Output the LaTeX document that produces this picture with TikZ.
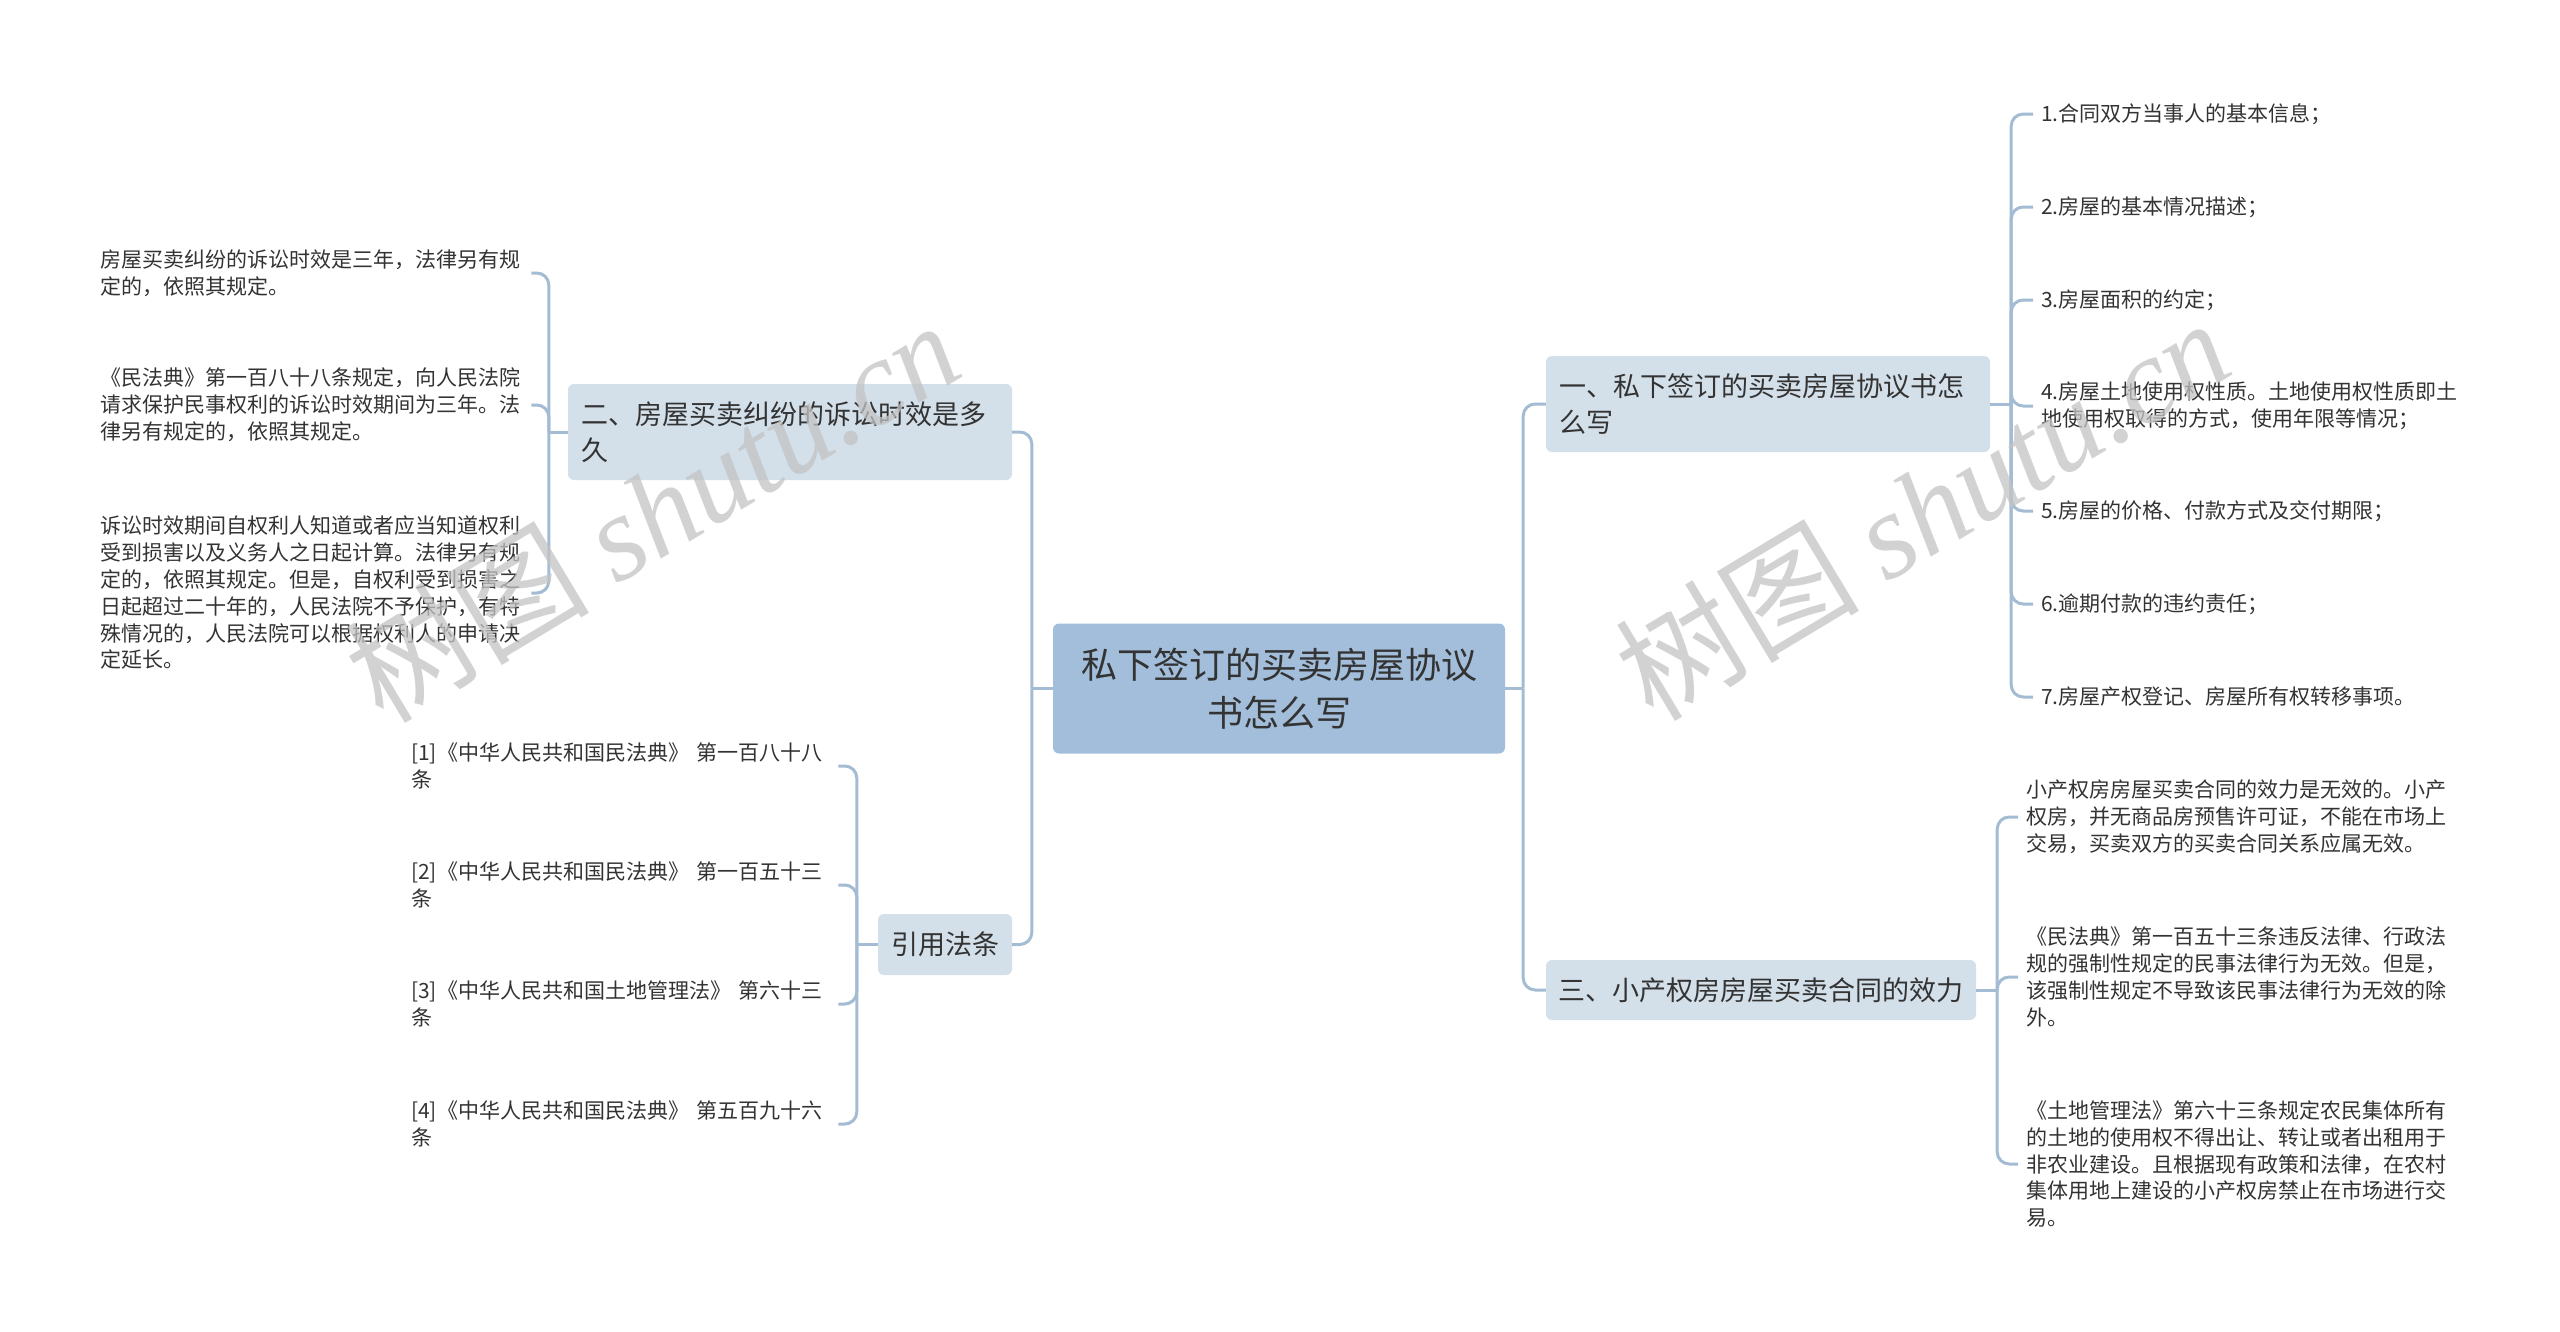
\documentclass[tikz,border=0pt]{standalone}
\usepackage{fontspec}
\setmainfont{Noto Sans CJK SC}
\newfontfamily\wmlatin{Liberation Serif}
\definecolor{centerfill}{HTML}{A2BEDA}
\definecolor{branchfill}{HTML}{D3DFE9}
\definecolor{linecol}{HTML}{A3BCD3}
\definecolor{txt}{HTML}{333333}
\definecolor{wm}{HTML}{C4C4C4}
\tikzset{
  centerbox/.style={fill=centerfill, rounded corners=6, minimum width=452, minimum height=130,
    align=center, font=\fontsize{36}{48}\selectfont, text=txt, inner sep=0},
  branchbox/.style={fill=branchfill, rounded corners=6, align=left,
    font=\fontsize{27}{36}\selectfont, text=txt, inner xsep=13, inner ysep=0},
  leafr/.style={anchor=west, align=left, font=\fontsize{21}{26.8}\selectfont, text=txt,
    inner xsep=8, inner ysep=0},
  leafl/.style={anchor=west, align=left, font=\fontsize{21}{26.8}\selectfont, text=txt,
    inner xsep=10, inner ysep=0},
  conn/.style={draw=linecol, line width=3},
  rconn/.style={draw=linecol, line width=3, rounded corners=12},
  wmark/.style={text=wm, opacity=.75, rotate=31, font=\fontsize{122}{122}\selectfont}
}
\begin{document}
\begin{tikzpicture}[x=1pt,y=-1pt]
\useasboundingbox[fill=white] (0,0) rectangle (2560,1331);

% central
\node[centerbox] (C) at (1279,688.5) {私下签订的买卖房屋协议\\书怎么写};

% branches
\node[branchbox, text width=418, minimum height=96] (B1) at (1768,404)
  {一、私下签订的买卖房屋协议书怎\\么写};
\node[branchbox, text width=405, inner xsep=12.5, minimum height=60] (B3) at (1761,990)
  {三、小产权房房屋买卖合同的效力};
\node[branchbox, text width=418, minimum height=96] (B2) at (790,432)
  {二、房屋买卖纠纷的诉讼时效是多\\久};
\node[branchbox, text width=108, minimum height=61] (R) at (945,944.5) {引用法条};

% leaves of B1
\node[leafr] (a1) at (2033,114) {1.合同双方当事人的基本信息；};
\node[leafr] (a2) at (2033,207) {2.房屋的基本情况描述；};
\node[leafr] (a3) at (2033,300) {3.房屋面积的约定；};
\node[leafr] (a4) at (2033,406) {4.房屋土地使用权性质。土地使用权性质即土\\地使用权取得的方式，使用年限等情况；};
\node[leafr] (a5) at (2033,511) {5.房屋的价格、付款方式及交付期限；};
\node[leafr] (a6) at (2033,604) {6.逾期付款的违约责任；};
\node[leafr] (a7) at (2033,697) {7.房屋产权登记、房屋所有权转移事项。};

% leaves of B3
\node[leafr] (c1) at (2018,817) {小产权房房屋买卖合同的效力是无效的。小产\\权房，并无商品房预售许可证，不能在市场上\\交易，买卖双方的买卖合同关系应属无效。};
\node[leafr] (c2) at (2018,977) {《民法典》第一百五十三条违反法律、行政法\\规的强制性规定的民事法律行为无效。但是，\\该强制性规定不导致该民事法律行为无效的除\\外。};
\node[leafr] (c3) at (2018,1164) {《土地管理法》第六十三条规定农民集体所有\\的土地的使用权不得出让、转让或者出租用于\\非农业建设。且根据现有政策和法律，在农村\\集体用地上建设的小产权房禁止在市场进行交\\易。};

% leaves of B2
\node[leafl, text width=421] (b1) at (90,273) {房屋买卖纠纷的诉讼时效是三年，法律另有规\\定的，依照其规定。};
\node[leafl, text width=421] (b2) at (90,405) {《民法典》第一百八十八条规定，向人民法院\\请求保护民事权利的诉讼时效期间为三年。法\\律另有规定的，依照其规定。};
\node[leafl, text width=421] (b3) at (90,593) {诉讼时效期间自权利人知道或者应当知道权利\\受到损害以及义务人之日起计算。法律另有规\\定的，依照其规定。但是，自权利受到损害之\\日起超过二十年的，人民法院不予保护，有特\\殊情况的，人民法院可以根据权利人的申请决\\定延长。};

% leaves of R
\node[leafl, text width=417] (r1) at (401,766) {[1]《中华人民共和国民法典》 第一百八十八\\条};
\node[leafl, text width=417] (r2) at (401,885) {[2]《中华人民共和国民法典》 第一百五十三\\条};
\node[leafl, text width=417] (r3) at (401,1004) {[3]《中华人民共和国土地管理法》 第六十三\\条};
\node[leafl, text width=417] (r4) at (401,1124) {[4]《中华人民共和国民法典》 第五百九十六\\条};

% trunk junctions
\path (C.east) ++(18,0) coordinate (tCR);
\path (C.west) ++(-21,0) coordinate (tCL);
\path (B1.east) ++(21,0) coordinate (tB1);
\path (B3.east) ++(21,0) coordinate (tB3);
\path (B2.west) ++(-19,0) coordinate (tB2);
\path (R.west) ++(-21,0) coordinate (tR);

\draw[conn] (C.east) -- (tCR);
\draw[conn] (C.west) -- (tCL);
\draw[conn] (B1.east) -- (tB1);
\draw[conn] (B3.east) -- (tB3);
\draw[conn] (B2.west) -- (tB2);
\draw[conn] (R.west) -- (tR);

\foreach \n in {B1,B3} \draw[rconn] (tCR) |- (\n.west);
\foreach \n in {B2,R} \draw[rconn] (tCL) |- (\n.east);
\foreach \n in {a1,a2,a3,a4,a5,a6,a7} \draw[rconn] (tB1) |- (\n.west);
\foreach \n in {c1,c2,c3} \draw[rconn] (tB3) |- (\n.west);
\foreach \n in {b1,b2,b3} \draw[rconn] (tB2) |- (\n.east);
\foreach \n in {r1,r2,r3,r4} \draw[rconn] (tR) |- (\n.east);

% watermarks
\node[wmark] (w1) at (652,510) {树图 {\wmlatin\itshape shutu.cn}};
\node[wmark] (w2) at (1922,508) {树图 {\wmlatin\itshape shutu.cn}};
\end{tikzpicture}
\end{document}
